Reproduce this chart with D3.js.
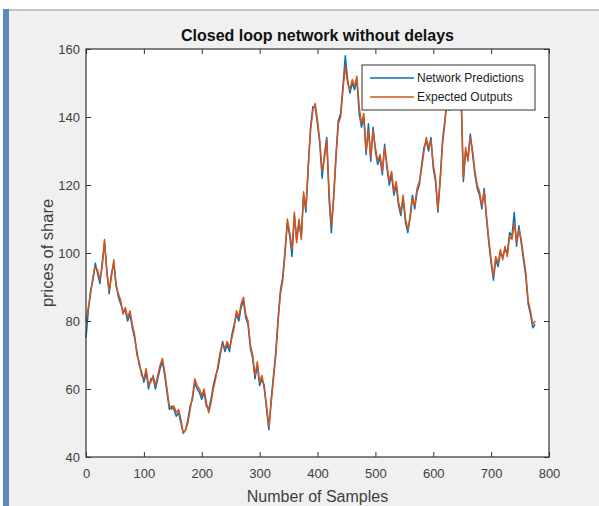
<!DOCTYPE html>
<html>
<head>
<meta charset="utf-8">
<script src="https://cdn.jsdelivr.net/npm/d3@7"></script>
<style>
  body { margin: 0; background: #fff; }
  svg { display: block; font-family: "Liberation Sans", Arial, sans-serif; }
</style>
</head>
<body>
<script>
// sample spacing (one stored value every 4 samples)
const step = 4;

// Network Predictions
const predicted = [
  75, 83, 89, 92, 97, 94, 91, 97, 103, 95,
  88, 94, 97, 91, 87, 85, 83, 83, 80, 82,
  78, 75, 71, 67, 65, 62, 65, 60, 63, 63,
  60, 63, 66, 68, 64, 59, 54, 55, 54, 52,
  53, 50, 47, 48, 51, 55, 57, 62, 60, 59,
  57, 59, 55, 54, 57, 61, 64, 66, 70, 74,
  71, 73, 71, 76, 79, 82, 80, 84, 86, 81,
  79, 72, 69, 63, 67, 61, 63, 61, 54, 48,
  57, 64, 71, 81, 89, 93, 101, 109, 105, 99,
  111, 104, 109, 105, 117, 112, 125, 137, 143, 143,
  138, 132, 122, 129, 134, 116, 106, 117, 129, 139,
  141, 149, 158, 151, 147, 150, 148, 151, 141, 137,
  140, 129, 138, 127, 137, 130, 126, 128, 123, 132,
  125, 120, 123, 117, 120, 114, 111, 116, 109, 106,
  111, 117, 113, 118, 120, 126, 131, 133, 130, 134,
  125, 121, 112, 122, 133, 139, 145, 142, 149, 147,
  151, 149, 147, 121, 130, 128, 135, 129, 123, 119,
  117, 113, 119, 110, 103, 97, 92, 98, 96, 100,
  99, 101, 100, 106, 105, 112, 102, 108, 103, 98,
  93, 85, 82, 78, 79
];

// Expected Outputs
const expected = [
  80, 84, 88, 93, 96, 95, 92, 96, 104, 94,
  89, 93, 98, 90, 88, 86, 82, 84, 81, 83,
  79, 76, 70, 68, 64, 63, 66, 61, 62, 64,
  61, 64, 67, 69, 65, 60, 55, 54, 55, 53,
  54, 51, 47, 48, 50, 54, 58, 63, 61, 60,
  58, 60, 56, 53, 56, 60, 63, 67, 71, 73,
  72, 74, 72, 75, 78, 83, 81, 85, 87, 82,
  80, 73, 70, 64, 68, 62, 64, 60, 55, 49,
  56, 63, 70, 80, 88, 92, 100, 110, 106, 101,
  112, 103, 110, 104, 118, 113, 126, 136, 142, 144,
  139, 133, 124, 128, 133, 118, 108, 116, 128, 138,
  140, 148, 155, 150, 148, 151, 149, 152, 143, 138,
  141, 130, 136, 128, 136, 131, 127, 129, 124, 131,
  126, 121, 124, 118, 121, 115, 112, 117, 110, 107,
  110, 116, 114, 119, 121, 125, 130, 134, 131, 133,
  126, 122, 113, 121, 132, 138, 146, 143, 150, 148,
  152, 150, 148, 122, 131, 127, 134, 130, 124, 120,
  118, 114, 118, 111, 104, 98, 93, 99, 97, 101,
  98, 102, 99, 105, 104, 109, 103, 107, 104, 99,
  94, 86, 83, 79, 80
];

const xTicks = [0, 100, 200, 300, 400, 500, 600, 700, 800];
const yTicks = [40, 60, 80, 100, 120, 140, 160];
const seriesNames = ["Network Predictions", "Expected Outputs"];
const colors = ["#0072bd", "#d95319"];

const W = 599, H = 506;
const box = { left: 86, right: 549, top: 49, bottom: 457 };

let svg = d3.select("body").append("svg")
    .attr("width", W)
    .attr("height", H);

// figure window background
svg.append("rect").attr("width", W).attr("height", H).attr("fill", "#fff");
svg.append("rect").attr("x", 9).attr("y", 10).attr("width", W - 9).attr("height", H - 10).attr("fill", "#f0f0f0");
svg.append("rect").attr("x", 9).attr("y", 9).attr("width", W - 9).attr("height", 2).attr("fill", "#c4c4c4");
svg.append("rect").attr("x", 3).attr("y", 9).attr("width", 6).attr("height", H - 9).attr("fill", "#5f88bb");

let xScale = d3.scaleLinear().domain([0, 800]).range([box.left, box.right]);
let yScale = d3.scaleLinear().domain([40, 160]).range([box.bottom, box.top]);

// axes background
svg.append("rect")
    .attr("x", box.left).attr("y", box.top)
    .attr("width", box.right - box.left).attr("height", box.bottom - box.top)
    .attr("fill", "#fff");

let line = d3.line()
    .x((d, i) => xScale(i * step))
    .y(d => yScale(d));

[predicted, expected].forEach((series, k) => {
    svg.append("path")
        .datum(series)
        .attr("fill", "none")
        .attr("stroke", colors[k])
        .attr("stroke-width", 1.5)
        .attr("stroke-linejoin", "round")
        .attr("d", line);
});

// axes with inward ticks on all four sides
function styleAxis(g) {
    g.select(".domain").remove();
    g.selectAll(".tick line").attr("stroke", "#333");
    g.selectAll(".tick text")
        .attr("fill", "#404040")
        .style("font-size", "13px");
}

svg.append("g")
    .attr("transform", `translate(0,${box.bottom})`)
    .call(d3.axisBottom(xScale).tickValues(xTicks).tickSize(-5).tickPadding(12))
    .call(styleAxis);

svg.append("g")
    .attr("transform", `translate(0,${box.top})`)
    .call(d3.axisTop(xScale).tickValues(xTicks).tickSize(-5).tickFormat(""))
    .call(styleAxis);

svg.append("g")
    .attr("transform", `translate(${box.left},0)`)
    .call(d3.axisLeft(yScale).tickValues(yTicks).tickSize(-5).tickPadding(6))
    .call(styleAxis);

svg.append("g")
    .attr("transform", `translate(${box.right},0)`)
    .call(d3.axisRight(yScale).tickValues(yTicks).tickSize(-5).tickFormat(""))
    .call(styleAxis);

svg.append("rect")
    .attr("x", box.left).attr("y", box.top)
    .attr("width", box.right - box.left).attr("height", box.bottom - box.top)
    .attr("fill", "none")
    .attr("stroke", "#333")
    .attr("stroke-width", 1.2);

// title and labels
svg.append("text")
    .attr("x", (box.left + box.right) / 2)
    .attr("y", 41)
    .attr("text-anchor", "middle")
    .attr("font-weight", "bold")
    .style("font-size", "16px")
    .attr("fill", "#111")
    .text("Closed loop network without delays");

svg.append("text")
    .attr("x", (box.left + box.right) / 2)
    .attr("y", 502)
    .attr("text-anchor", "middle")
    .style("font-size", "16px")
    .attr("fill", "#404040")
    .text("Number of Samples");

svg.append("text")
    .attr("transform", `translate(53,${(box.top + box.bottom) / 2}) rotate(-90)`)
    .attr("text-anchor", "middle")
    .style("font-size", "16.5px")
    .attr("fill", "#404040")
    .text("prices of share");

// legend
let legend = svg.append("g");
legend.append("rect")
    .attr("x", 362).attr("y", 65)
    .attr("width", 173).attr("height", 45)
    .attr("fill", "#fff")
    .attr("stroke", "#333")
    .attr("stroke-width", 1);

seriesNames.forEach((name, k) => {
    let y = 78 + k * 19;
    legend.append("line")
        .attr("x1", 370).attr("x2", 414)
        .attr("y1", y).attr("y2", y)
        .attr("stroke", colors[k])
        .attr("stroke-width", 1.3);
    legend.append("text")
        .attr("x", 417).attr("y", y)
        .attr("dy", "0.35em")
        .style("font-size", "12px")
        .attr("fill", "#222")
        .text(name);
});
</script>
</body>
</html>
